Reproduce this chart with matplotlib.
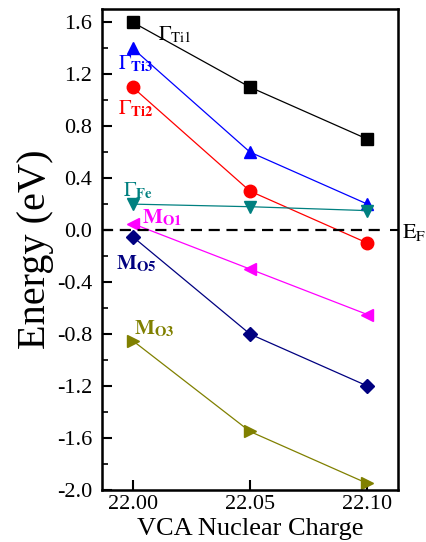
import numpy as np
import matplotlib
matplotlib.use('Agg')
import matplotlib.pyplot as plt

plt.rcParams['font.family'] = ['Liberation Serif', 'DejaVu Serif']
plt.rcParams['mathtext.fontset'] = 'stix'

# data
charge = [22.00, 22.05, 22.10]
ti1 = [1.6, 1.1, 0.7]
ti3 = [1.4, 0.6, 0.2]
ti2 = [1.1, 0.3, -0.1]
fe = [0.2, 0.18, 0.15]
mo1 = [0.05, -0.3, -0.65]
mo5 = [-0.05, -0.8, -1.2]
mo3 = [-0.85, -1.55, -1.95]

series = [
    (ti1, 'black', 's', r'$\Gamma_{\mathrm{Ti1}}$', (22.011, 1.50)),
    (ti3, '#0000ff', '^', r'$\Gamma_{\mathbf{Ti3}}$', (21.9936, 1.28)),
    (ti2, '#ff0000', 'o', r'$\Gamma_{\mathbf{Ti2}}$', (21.994, 0.93)),
    (fe, '#008080', 'v', r'$\Gamma_{\mathbf{Fe}}$', (21.9958, 0.30)),
    (mo1, '#ff00ff', '<', r'$\mathbf{M}_{\mathbf{O1}}$', (22.0042, 0.09)),
    (mo5, '#000080', 'D', r'$\mathbf{M}_{\mathbf{O5}}$', (21.9928, -0.26)),
    (mo3, '#808000', '>', r'$\mathbf{M}_{\mathbf{O3}}$', (22.0004, -0.76)),
]

fig = plt.figure(figsize=(4.27, 5.42), dpi=100)
ax = fig.add_axes([0.239, 0.096, 0.693, 0.887])

for vals, c, m, lab, pos in series:
    ms = 9 if m != 'D' else 7.5
    ax.plot(charge, vals, color=c, marker=m, ms=ms, lw=0.9)
    ax.text(pos[0], pos[1], lab, color=c, fontsize=15, va='center', ha='left')

ax.axhline(0, color='black', ls=(0, (5, 3)), lw=1.6, xmax=0.95)

ax.set_xlim(21.987, 22.113)
ax.set_ylim(-2.0, 1.7)
ax.set_xticks(charge)
ax.set_xticklabels(['22.00', '22.05', '22.10'])
yt = np.arange(-2.0, 1.61, 0.4)
ax.set_yticks(yt)
ax.set_yticklabels(['%.1f' % (0.0 if abs(v) < 1e-9 else v) for v in yt])
ax.set_yticks(np.arange(-1.8, 1.61, 0.4), minor=True)

ax.tick_params(which='major', direction='in', length=7, width=1.5, labelsize=16)
ax.tick_params(axis='y', which='major', pad=7)
ax.tick_params(which='minor', direction='in', length=4, width=1.2)
for s in ax.spines.values():
    s.set_linewidth(1.8)

# single tick on the right edge at the Fermi level, labelled E_F
ax2 = ax.twinx()
ax2.set_ylim(ax.get_ylim())
ax2.set_yticks([0])
ax2.set_yticklabels([r'$\mathrm{E}_{\mathrm{F}}$'])
ax2.tick_params(direction='in', length=6, width=1.5, labelsize=16, pad=3)

ax.set_xlabel('VCA Nuclear Charge', fontsize=19, labelpad=3)
ax.set_ylabel('Energy (eV)', fontsize=29, labelpad=2)

fig.savefig('out.png', dpi=100)
